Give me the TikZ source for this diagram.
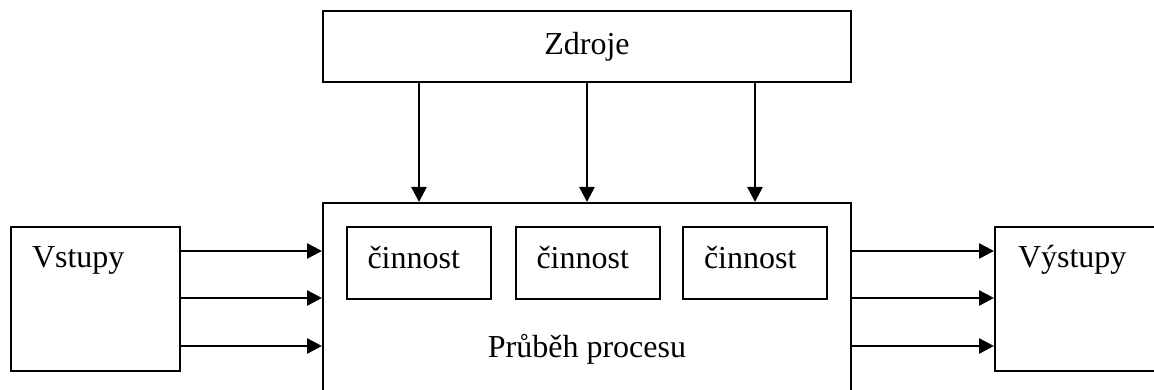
\documentclass[tikz,border=0pt]{standalone}
\usepackage{fontspec}
\setmainfont{Liberation Serif}
\usetikzlibrary{arrows.meta}

\begin{document}
\begin{tikzpicture}[x=1pt, y=1pt, font=\fontsize{32}{38}\selectfont,
  box/.style={draw, line width=2pt, inner sep=0pt},
  actbox/.style={box, minimum width=144pt, minimum height=72pt, text width=102pt, align=left, text height=20pt, text depth=8pt},
  iobox/.style={box, minimum height=144pt, align=left, text height=22pt, text depth=84pt},
  flow/.style={line width=2.6pt, -{Triangle[length=15pt, width=15pt]}}]
\useasboundingbox (0,0) rectangle (1154,390);
\clip (0,0) rectangle (1154,390);
% zdroje nahore, proces uprostred
\node[box, minimum width=528pt, minimum height=71pt] (zdroje) at (587,343.5) {Zdroje};
\node[box, minimum width=528pt, minimum height=217pt] (proces) at (587,78.5) {};
\node[anchor=base] (prubeh) at (587,32) {Průběh procesu};
\node[actbox] (cin1) at (418.5,127) {činnost};
\node[actbox] (cin2) at (587.5,127) {činnost};
\node[actbox] (cin3) at (755,127) {činnost};
% vstupy a vystupy
\node[iobox, minimum width=169pt, text width=127pt] (vstupy) at (95.5,91) {Vstupy};
\node[iobox, minimum width=180pt, text width=134pt] (vystupy) at (1085,91) {Výstupy};
\draw[flow] (zdroje.south -| 419,0) -- (proces.north -| 419,0);
\draw[flow] (zdroje.south -| 587,0) -- (proces.north -| 587,0);
\draw[flow] (zdroje.south -| 755,0) -- (proces.north -| 755,0);
\draw[flow] (vstupy.east |- 0,139) -- (proces.west |- 0,139);
\draw[flow] (vstupy.east |- 0,92) -- (proces.west |- 0,92);
\draw[flow] (vstupy.east |- 0,44) -- (proces.west |- 0,44);
\draw[flow] (proces.east |- 0,139) -- (vystupy.west |- 0,139);
\draw[flow] (proces.east |- 0,92) -- (vystupy.west |- 0,92);
\draw[flow] (proces.east |- 0,44) -- (vystupy.west |- 0,44);
\end{tikzpicture}
\end{document}
